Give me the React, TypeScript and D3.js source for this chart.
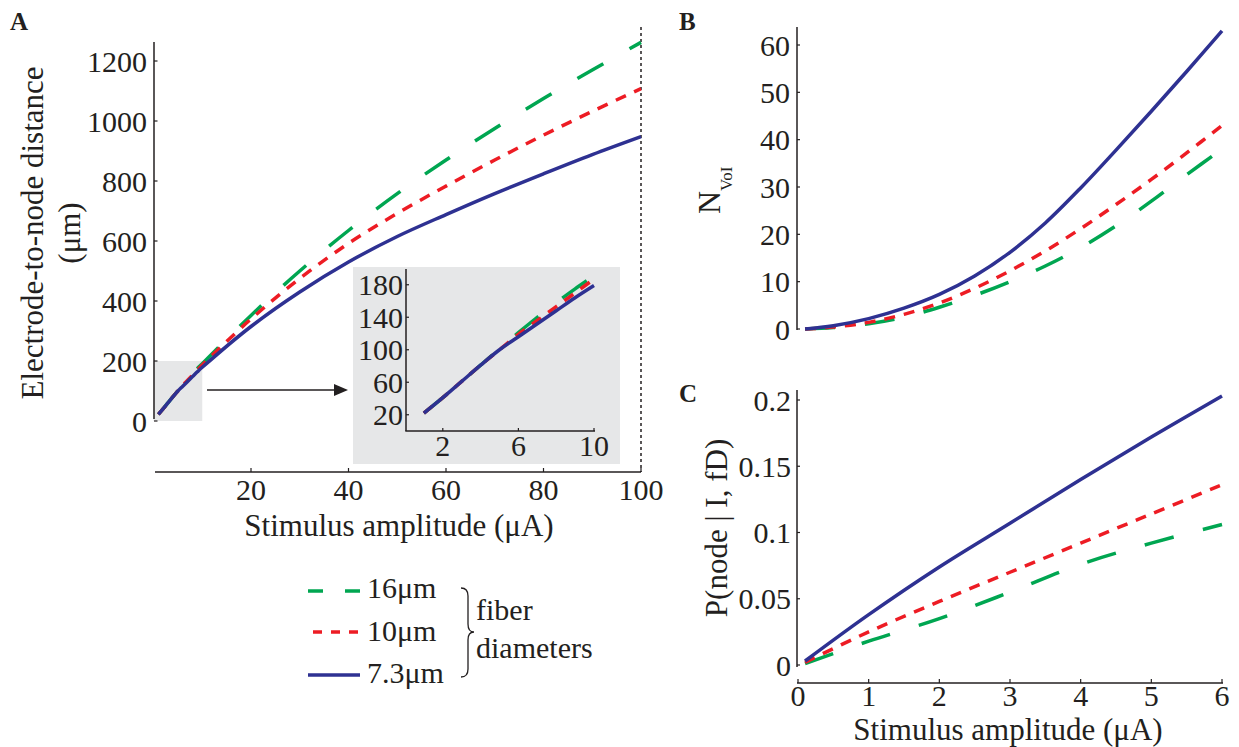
import React from "react";
import * as d3 from "d3";

// ---------- data ----------
const aX = [1, 2, 3, 4, 5, 6, 7, 8, 9, 10, 20, 30, 40, 50, 60, 70, 80, 90, 100];
const a16 = [22, 41, 61, 81, 101, 121, 140, 158, 175, 191, 352, 500, 635, 758, 870, 975, 1075, 1170, 1262];
const a10 = [22, 41, 61, 81, 100, 119, 136, 153, 170, 187, 340, 475, 592, 692, 783, 870, 953, 1032, 1108];
const a73 = [22, 41, 61, 81, 100, 116, 132, 148, 164, 179, 315, 430, 530, 615, 688, 758, 824, 888, 948];

const bX = [0.1, 0.5, 1, 1.5, 2, 2.5, 3, 3.5, 4, 4.5, 5, 5.5, 6];
const b16 = [0, 0.3, 1.1, 2.5, 4.6, 7.1, 10.0, 13.3, 17.2, 21.8, 27.0, 32.6, 38];
const b10 = [0, 0.4, 1.4, 3.1, 5.5, 8.6, 12.3, 16.5, 21.2, 26.3, 31.6, 37.2, 43];
const b73 = [0, 0.7, 2.2, 4.4, 7.3, 11.2, 16.2, 22.4, 29.8, 37.8, 46.0, 54.4, 63];

const cX = [0.1, 1, 2, 3, 4, 5, 6];
const c16 = [0.001, 0.018, 0.035, 0.055, 0.076, 0.092, 0.106];
const c10 = [0.002, 0.025, 0.048, 0.07, 0.092, 0.114, 0.136];
const c73 = [0.003, 0.038, 0.074, 0.107, 0.14, 0.172, 0.203];

const aXTicks = [20, 40, 60, 80, 100];
const aYTicks = [0, 200, 400, 600, 800, 1000, 1200];
const inXTicks = [2, 6, 10];
const inYTicks = [20, 60, 100, 140, 180];
const bYTicks = [0, 10, 20, 30, 40, 50, 60];
const cYTicks = [0, 0.05, 0.1, 0.15, 0.2];
const cYTickLabels = ["0", "0.05", "0.1", "0.15", "0.2"];
const cXTicks = [0, 1, 2, 3, 4, 5, 6];

const seriesNames = ["16μm", "10μm", "7.3μm"];

// ---------- styles ----------
const INK = "#231f20";
const GREEN = "#00a651";
const RED = "#ed1c24";
const BLUE = "#2e3192";
const GREY = "#e6e7e8";
const FONT = "'Liberation Serif', 'Times New Roman', serif";
const FS = 30;
const FST = 31;
const LW = 3.5;
const dashG = "30,30";
const dashR = "11,9";

const seriesStyle = [
  { color: GREEN, dash: dashG as string | undefined },
  { color: RED, dash: dashR as string | undefined },
  { color: BLUE, dash: undefined as string | undefined },
];

export default function App() {
  // scales
  const xA = d3.scaleLinear().domain([0, 100]).range([153.5, 641]);
  const yA = d3.scaleLinear().domain([0, 1200]).range([421, 61]);
  const xI = d3.scaleLinear().domain([0, 10]).range([405, 594]);
  const yI = d3.scaleLinear().domain([0, 200]).range([431, 268.5]);
  const xBC = d3.scaleLinear().domain([0, 6]).range([798, 1222]);
  const yB = d3.scaleLinear().domain([0, 60]).range([329, 45]);
  const yC = d3.scaleLinear().domain([0, 0.2]).range([665, 400]);

  const mk = (xs: number[], ys: number[], sx: any, sy: any) =>
    d3
      .line<number>()
      .x((_, i) => sx(xs[i]))
      .y((d) => sy(d))
      .curve(d3.curveCatmullRom.alpha(0.5))(ys) || "";

  const aSeries = [a16, a10, a73];
  const bSeries = [b16, b10, b73];
  const cSeries = [c16, c10, c73];

  const inIdx = aX.map((x, i) => (x <= 10 ? i : -1)).filter((i) => i >= 0);
  const inX = inIdx.map((i) => aX[i]);

  const txt = (props: any) => ({ fontFamily: FONT, fontSize: FS, fill: INK, ...props });

  return (
    <svg width={1239} height={747} style={{ display: "block", position: "absolute", left: 0, top: 0 }}>
      <rect x={0} y={0} width={1239} height={747} fill="#fff" />

      {/* ================= Panel A ================= */}
      <text x={10} y={30} fontFamily={FONT} fontSize={25} fontWeight="bold" fill={INK}>A</text>

      {/* grey zoom box */}
      <rect x={xA(0)} y={yA(200)} width={xA(10) - xA(0)} height={yA(0) - yA(200)} fill={GREY} />
      {/* inset background */}
      <rect x={353} y={267} width={267} height={197} fill={GREY} />

      {/* y axis */}
      <line x1={154} x2={154} y1={42} y2={yA(0) - 2} stroke={INK} strokeWidth={1.5} />
      {aYTicks.map((t) => (
        <g key={"ay" + t}>
          <line x1={154} x2={157.5} y1={yA(t)} y2={yA(t)} stroke={INK} strokeWidth={1.2} />
          <text {...txt({ x: 147, y: yA(t), textAnchor: "end", dominantBaseline: "central" })}>{t}</text>
        </g>
      ))}
      {/* x axis */}
      <line x1={155} x2={641} y1={472} y2={472} stroke={INK} strokeWidth={1.5} />
      {aXTicks.map((t) => (
        <g key={"ax" + t}>
          <line x1={xA(t)} x2={xA(t)} y1={472} y2={468} stroke={INK} strokeWidth={1.2} />
          <text {...txt({ x: xA(t), y: 500, textAnchor: "middle" })}>{t}</text>
        </g>
      ))}
      <text {...txt({ x: 399, y: 536, textAnchor: "middle", fontSize: FST })}>Stimulus amplitude (μA)</text>
      <text {...txt({ transform: "translate(43,233) rotate(-90)", textAnchor: "middle", fontSize: FST })}>Electrode-to-node distance</text>
      <text {...txt({ transform: "translate(80,233) rotate(-90)", textAnchor: "middle", fontSize: FST })}>(μm)</text>

      {/* dotted line at 100 */}
      <line x1={xA(100)} x2={xA(100)} y1={27} y2={472} stroke={INK} strokeWidth={1.5} strokeDasharray="3,3" />

      {/* main lines */}
      {aSeries.map((s, k) => (
        <path key={"al" + k} d={mk(aX, s, xA, yA)} fill="none" stroke={seriesStyle[k].color}
          strokeWidth={LW} strokeDasharray={seriesStyle[k].dash} />
      ))}

      {/* arrow */}
      <line x1={207} x2={336} y1={390} y2={390} stroke={INK} strokeWidth={1.5} />
      <polygon points="348,390 334,384 334,396" fill={INK} />

      {/* inset axes */}
      <line x1={406} x2={406} y1={269} y2={431} stroke={INK} strokeWidth={1.5} />
      <line x1={405.3} x2={595} y1={431} y2={431} stroke={INK} strokeWidth={1.5} />
      {inYTicks.map((t) => (
        <g key={"iy" + t}>
          <line x1={406} x2={409} y1={yI(t)} y2={yI(t)} stroke={INK} strokeWidth={1.2} />
          <text {...txt({ x: 403, y: yI(t), textAnchor: "end", dominantBaseline: "central" })}>{t}</text>
        </g>
      ))}
      {inXTicks.map((t) => (
        <g key={"ix" + t}>
          <line x1={xI(t)} x2={xI(t)} y1={431} y2={428} stroke={INK} strokeWidth={1.2} />
          <text {...txt({ x: xI(t), y: 456, textAnchor: "middle" })}>{t}</text>
        </g>
      ))}
      {aSeries.map((s, k) => (
        <path key={"il" + k} d={mk(inX, inIdx.map((i) => s[i]), xI, yI)} fill="none"
          stroke={seriesStyle[k].color} strokeWidth={LW} strokeDasharray={seriesStyle[k].dash} />
      ))}

      {/* ================= Legend ================= */}
      <line x1={308} x2={360} y1={591} y2={591} stroke={GREEN} strokeWidth={LW} strokeDasharray="15,22" />
      <line x1={308} x2={360} y1={632} y2={632} stroke={RED} strokeWidth={LW} strokeDasharray="9,9" strokeDashoffset={13} />
      <line x1={308} x2={360} y1={675} y2={675} stroke={BLUE} strokeWidth={LW} />
      <text {...txt({ x: 367, y: 598 })}>{seriesNames[0]}</text>
      <text {...txt({ x: 367, y: 641 })}>{seriesNames[1]}</text>
      <text {...txt({ x: 367, y: 683 })}>{seriesNames[2]}</text>
      <path d="M461,588 Q468,588 468,596 L468,624 Q468,632 474,632 Q468,632 468,640 L468,669 Q468,677 461,677"
        fill="none" stroke={INK} strokeWidth={1.3} />
      <text {...txt({ x: 476, y: 620 })}>fiber</text>
      <text {...txt({ x: 476, y: 658 })}>diameters</text>

      {/* ================= Panel B ================= */}
      <text x={679} y={30} fontFamily={FONT} fontSize={25} fontWeight="bold" fill={INK}>B</text>
      <line x1={797} x2={797} y1={27} y2={330} stroke={INK} strokeWidth={1.5} />
      {bYTicks.map((t) => (
        <g key={"by" + t}>
          <line x1={797} x2={800} y1={yB(t)} y2={yB(t)} stroke={INK} strokeWidth={1.2} />
          <text {...txt({ x: 790, y: yB(t), textAnchor: "end", dominantBaseline: "central" })}>{t}</text>
        </g>
      ))}
      <text transform="translate(720,214) rotate(-90)" fontFamily={FONT} fill={INK} fontSize={32}>
        N<tspan fontSize={17} dy={12}>VoI</tspan>
      </text>
      {bSeries.map((s, k) => (
        <path key={"bl" + k} d={mk(bX, s, xBC, yB)} fill="none" stroke={seriesStyle[k].color}
          strokeWidth={LW} strokeDasharray={seriesStyle[k].dash} />
      ))}

      {/* ================= Panel C ================= */}
      <text x={679} y={402} fontFamily={FONT} fontSize={25} fontWeight="bold" fill={INK}>C</text>
      <line x1={797} x2={797} y1={390} y2={667} stroke={INK} strokeWidth={1.5} />
      {cYTicks.map((t, i) => (
        <g key={"cy" + t}>
          <line x1={797} x2={800} y1={yC(t)} y2={yC(t)} stroke={INK} strokeWidth={1.2} />
          <text {...txt({ x: 791, y: yC(t), textAnchor: "end", dominantBaseline: "central" })}>{cYTickLabels[i]}</text>
        </g>
      ))}
      <line x1={797} x2={1223} y1={683} y2={683} stroke={INK} strokeWidth={1.5} />
      {cXTicks.map((t) => (
        <g key={"cx" + t}>
          <line x1={xBC(t)} x2={xBC(t)} y1={683} y2={679} stroke={INK} strokeWidth={1.2} />
          <text {...txt({ x: xBC(t), y: 706, textAnchor: "middle" })}>{t}</text>
        </g>
      ))}
      <text {...txt({ x: 1008, y: 740, textAnchor: "middle", fontSize: FST })}>Stimulus amplitude (μA)</text>
      <text {...txt({ transform: "translate(727,528) rotate(-90)", textAnchor: "middle", fontSize: FST })}>P(node | I, fD)</text>
      {cSeries.map((s, k) => (
        <path key={"cl" + k} d={mk(cX, s, xBC, yC)} fill="none" stroke={seriesStyle[k].color}
          strokeWidth={LW} strokeDasharray={seriesStyle[k].dash} />
      ))}
    </svg>
  );
}
